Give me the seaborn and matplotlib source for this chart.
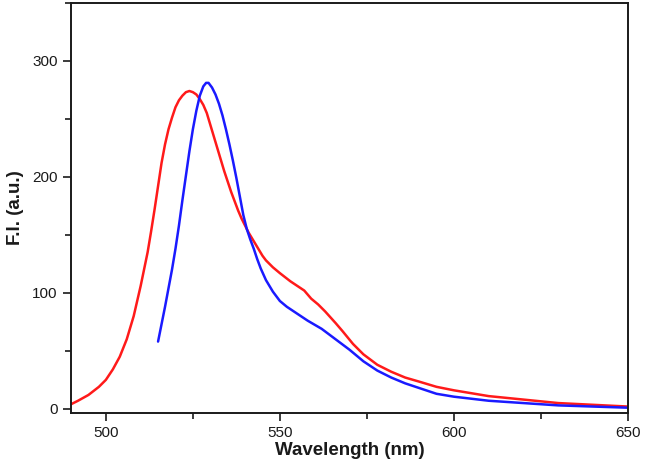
import matplotlib
matplotlib.use("Agg")
import matplotlib.pyplot as plt
import pandas as pd
import seaborn as sns
from matplotlib.ticker import MultipleLocator

red_x = [490, 492, 495, 498, 500, 502, 504, 506, 508, 510, 512, 513, 514, 515,
         516, 517, 518, 519, 520, 521, 522, 523, 524, 525, 526, 527, 528, 529,
         530, 531, 532, 533, 534, 535, 536, 537, 538, 539, 540, 541, 542, 543,
         544, 545, 546, 547, 548, 550, 553, 555, 557, 559, 561, 563, 566, 568,
         571, 574, 578, 582, 586, 590, 595, 600, 610, 620, 630, 640, 650]
red_y = [4, 7, 12, 19, 25, 34, 45, 60, 80, 106, 135, 153, 172, 192,
         212, 228, 241, 251, 260, 266, 270, 273, 274, 273, 271, 267, 262, 255,
         245, 235, 225, 215, 205, 196, 187, 179, 171, 164, 158, 152, 147, 142,
         137, 132, 128, 125, 122, 117, 110, 106, 102, 95, 90, 84, 74, 67,
         56, 47, 38, 32, 27, 23.5, 19, 16, 11, 8, 5, 3.5, 2]

blue_x = [515, 516, 517, 518, 519, 520, 521, 522, 523, 524, 525, 526, 527,
          528, 528.8, 529.5, 530.5, 531.5, 532.5, 533.5, 534.5, 535.5, 536.5,
          537.5, 538.5, 539.5, 540.5, 541.5, 542.5, 543.5, 544.5, 546, 548,
          550, 552, 554, 556, 558, 562, 566, 570, 574, 578, 582, 586, 590, 595,
          600, 610, 620, 630, 640, 650]
blue_y = [58, 73, 88, 104, 120, 138, 158, 180, 201, 222, 241, 257, 270,
          278, 281, 281, 277, 271, 263, 253, 241, 228, 214,
          199, 183, 167, 155, 146, 138, 129, 121, 111, 101,
          93, 88, 84, 80, 76, 69, 60, 51, 41, 33, 27, 22, 18, 13,
          10.5, 7, 5, 3, 2, 1]

red = pd.DataFrame({"wl": red_x, "fi": red_y})
blue = pd.DataFrame({"wl": blue_x, "fi": blue_y})

sns.set_theme(style="ticks")
plt.rcParams["font.family"] = ["Liberation Sans", "DejaVu Sans"]

fig = plt.figure(figsize=(6.46, 4.73), dpi=100)
ax = fig.add_axes([0.110, 0.127, 0.862, 0.867])
sns.lineplot(data=red, x="wl", y="fi", color="#ff1a1a", linewidth=1.8, sort=False, ax=ax)
sns.lineplot(data=blue, x="wl", y="fi", color="#1a1aff", linewidth=1.8, sort=False, ax=ax)

ax.set_xlim(490, 650)
ax.set_ylim(-3.5, 350)
ax.xaxis.set_major_locator(MultipleLocator(50))
ax.xaxis.set_minor_locator(MultipleLocator(25))
ax.yaxis.set_major_locator(MultipleLocator(100))
ax.yaxis.set_minor_locator(MultipleLocator(50))
ax.tick_params(which="major", direction="out", length=6, width=1.2, colors="#1a1a1a",
               labelsize=11, labelcolor="#1a1a1a")
ax.tick_params(which="minor", direction="out", length=4, width=1.2, colors="#1a1a1a")
for s in ax.spines.values():
    s.set_linewidth(1.4)
    s.set_color("#1a1a1a")
ax.set_xlabel("Wavelength (nm)", fontsize=13.5, fontweight="bold", color="#1a1a1a", labelpad=1)
ax.set_ylabel("F.I. (a.u.)", fontsize=13.5, fontweight="bold", color="#1a1a1a", labelpad=6)

fig.savefig("out.png", dpi=100)
